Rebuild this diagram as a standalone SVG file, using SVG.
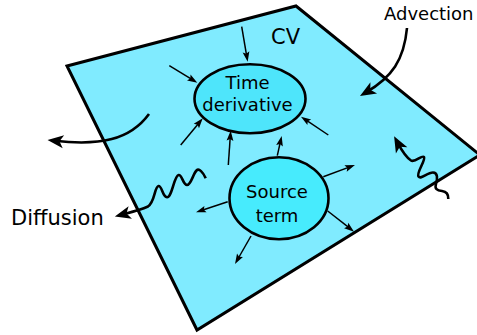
<svg xmlns="http://www.w3.org/2000/svg" width="477" height="335" viewBox="0 0 477 335">
<style>
  text { font-family: "DejaVu Sans", "Liberation Sans", sans-serif; fill: #000; }
  .lbl { font-size: 18px; }
  .big { font-size: 21px; }
  .node { stroke: #000; stroke-width: 2.6; }
  .thin { fill: none; stroke: #000; stroke-width: 1.5; marker-end: url(#sm); }
  .thick { fill: none; stroke: #000; stroke-width: 2.6; marker-end: url(#lg); }
</style>
<defs>
  <marker id="sm" viewBox="-8 -5 13 10" markerWidth="13" markerHeight="10" refX="0" refY="0" orient="auto" markerUnits="userSpaceOnUse">
    <path d="M4,0 L-6,-3.4 L-4.2,0 L-6,3.4 Z" fill="#000"/>
  </marker>
  <marker id="lg" viewBox="-12 -8 22 16" markerWidth="22" markerHeight="16" refX="0" refY="0" orient="auto" markerUnits="userSpaceOnUse">
    <path d="M7,0 L-9,-6.5 L-5,0 L-9,6.5 Z" fill="#000"/>
  </marker>
</defs>
<g id="cv">
  <polygon points="67,66 296,6 480,155 197,330" fill="#80ebff" stroke="#000" stroke-width="3" stroke-linejoin="miter"/>
  <text class="big" x="271" y="44">CV</text>
</g>
<g id="time-derivative">
  <ellipse class="node" cx="250" cy="98.7" rx="55.5" ry="34.5" fill="#4ee5fb"/>
  <text class="lbl" x="247.5" y="88.5" text-anchor="middle">Time</text>
  <text class="lbl" x="247.5" y="111" text-anchor="middle">derivative</text>
</g>
<g id="source-term">
  <ellipse class="node" cx="279" cy="198.3" rx="49.5" ry="41" fill="#47ebfd"/>
  <text class="lbl" x="277" y="197.5" text-anchor="middle">Source</text>
  <text class="lbl" x="277" y="221.5" text-anchor="middle">term</text>
</g>
<g id="advection-label">
  <text class="lbl" x="384" y="19.5">Advection</text>
</g>
<g id="diffusion-label">
  <text class="big" x="11" y="225">Diffusion</text>
</g>
<g id="connectors">
  <path class="thin" d="M241.7,26.7 L247,57.8"/>
  <path class="thin" d="M169.3,65.7 L193.9,80.6"/>
  <path class="thin" d="M180.7,145 L200.2,121.4"/>
  <path class="thin" d="M228.3,165 L230.4,134.7"/>
  <path class="thin" d="M328.3,135 L304.3,118.9"/>
  <path class="thin" d="M277.3,155.7 L280.8,139.9"/>
  <path class="thin" d="M323.3,176.7 L351.2,166.4"/>
  <path class="thin" d="M227.7,201.7 L199.8,211"/>
  <path class="thin" d="M327.7,211 L350.9,229.2"/>
  <path class="thin" d="M251,236 L237,260.5"/>
  <path class="thick" d="M407,28 C404,60 392,77 366,92.4"/>
  <path class="thick" d="M149,114 C130,140 100,146 54.5,140.8"/>
  <path class="thick" d="M205.7,178.3 C203,172 199,168 196.5,170.5 C193,174 191,185 187,185 C183,185 182,174 178.5,175 C174,176 172,197.5 167,197.3 C162.5,197 162,185.5 158.5,186 C154.5,186.5 155,202 148,206.5 C140,210 132,212 121.6,214.8"/>
  <path class="thick" d="M448.3,199 C448.5,194 446,191.5 442,191 C437,190.5 434.5,189 436,184 C437.5,179 438,172.5 433,172.5 C427,172.5 421,180 418.5,176.5 C416,173 426,160 424,157 C422,154.5 415,163 411,160.5 C407,158 402,151 397.4,142.4"/>
</g>
</svg>
